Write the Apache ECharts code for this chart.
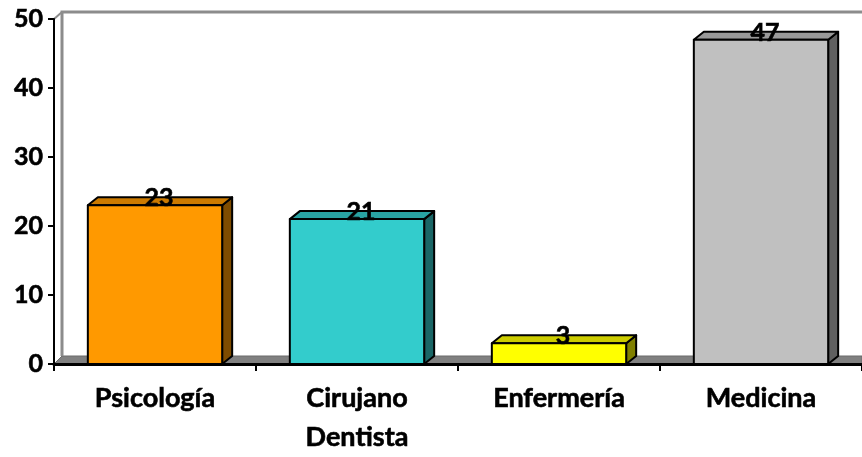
<!DOCTYPE html>
<html>
<head>
<meta charset="utf-8">
<script src="https://cdn.jsdelivr.net/npm/echarts@6/dist/echarts.min.js"></script>
<style>html,body{margin:0;padding:0;background:#fff}#c{width:862px;height:457px}</style>
</head>
<body>
<div id="c"></div>
<script>
const categories = ['Psicología', 'Cirujano\nDentista', 'Enfermería', 'Medicina'];
const values = [23, 21, 3, 47];
const frontColors = ['#FF9900', '#33CCCC', '#FFFF00', '#C0C0C0'];
const topColors = ['#CC7A00', '#29A3A3', '#CCCC00', '#999999'];
const sideColors = ['#7F4C00', '#1A6666', '#808000', '#606060'];
const yTicks = [0, 10, 20, 30, 40, 50];

const FONT = 'Lato, "Open Sans", sans-serif';
const DX = 10, DY = 8;

const chart = echarts.init(document.getElementById('c'), null, {renderer: 'canvas'});

const option = {
  animation: false,
  backgroundColor: '#fff',
  grid: {left: 54, right: 0, top: 19, bottom: 90, containLabel: false},
  xAxis: {
    type: 'category',
    data: categories,
    boundaryGap: true,
    axisLine: {lineStyle: {color: '#000', width: 3}},
    axisTick: {show: true, length: 7, lineStyle: {color: '#000', width: 2}, alignWithLabel: false},
    axisLabel: {color: '#000', fontFamily: FONT, fontWeight: 'bold', fontSize: 27, margin: 15, lineHeight: 39, interval: 0,
      textBorderColor: '#000', textBorderWidth: 0.6},
    splitLine: {show: false},
    z: 5
  },
  yAxis: {
    type: 'value',
    min: yTicks[0], max: yTicks[yTicks.length - 1], interval: 10,
    axisLine: {show: true, lineStyle: {color: '#000', width: 2}},
    axisTick: {show: true, length: 6, lineStyle: {color: '#000', width: 2}},
    axisLabel: {color: '#000', fontFamily: FONT, fontWeight: 'bold', fontSize: 25, margin: 11,
      textBorderColor: '#000', textBorderWidth: 0.6},
    splitLine: {show: false},
    z: 5
  },
  series: [{
    type: 'custom',
    data: values.map((v, i) => [i, v]),
    z: 3,
    renderItem: function (params, api) {
      const i = params.dataIndex;
      const v = api.value(1);
      const base = api.coord([api.value(0), 0]);
      const top = api.coord([api.value(0), v]);
      const bw = api.size([1, 0])[0] * 0.665;
      const x0 = top[0] - bw / 2, x1 = top[0] + bw / 2;
      const yt = top[1], yb = base[1];
      const stroke = {stroke: '#000', lineWidth: 2, lineJoin: 'round'};
      return {
        type: 'group',
        children: [
          {type: 'polygon', shape: {points: [[x1, yb], [x1 + DX, yb - DY], [x1 + DX, yt - DY], [x1, yt]]},
           style: Object.assign({fill: sideColors[i]}, stroke)},
          {type: 'polygon', shape: {points: [[x0, yt], [x0 + DX, yt - DY], [x1 + DX, yt - DY], [x1, yt]]},
           style: Object.assign({fill: topColors[i]}, stroke)},
          {type: 'rect', shape: {x: x0, y: yt, width: bw, height: yb - yt},
           style: Object.assign({fill: frontColors[i]}, stroke)},
          {type: 'text', z2: 10, style: {text: String(v), x: top[0] + DX / 2 - 1, y: yt - DY / 2 - 3,
            align: 'center', verticalAlign: 'middle', fill: '#000', font: 'bold 25px ' + FONT,
            stroke: '#000', lineWidth: 0.6}}
        ]
      };
    }
  }]
};
chart.setOption(option);

// 3D back wall and floor, derived from the axes
const y0 = chart.convertToPixel({yAxisIndex: 0}, yTicks[0]);
const yMax = chart.convertToPixel({yAxisIndex: 0}, yTicks[yTicks.length - 1]);
const c0 = chart.convertToPixel({xAxisIndex: 0}, categories[0]);
const c1 = chart.convertToPixel({xAxisIndex: 0}, categories[1]);
const band = c1 - c0;
const xL = c0 - band / 2;
const xR = chart.convertToPixel({xAxisIndex: 0}, categories[categories.length - 1]) + band / 2;

chart.setOption({
  graphic: [
    {type: 'polygon', z: 1, shape: {points: [[xL, y0], [xL + DX - 2, y0 - DY], [xR, y0 - DY], [xR, y0]]},
     style: {fill: '#808080', stroke: '#6a6a6a', lineWidth: 1}},
    {type: 'polyline', z: 1, shape: {points: [[xL + DX - 2, y0 - DY], [xL + DX - 2, yMax - DY + 1], [xR, yMax - DY + 1]]},
     style: {stroke: '#8c8c8c', lineWidth: 3, fill: null}},
    {type: 'line', z: 1, shape: {x1: xL, y1: yMax, x2: xL + DX - 2, y2: yMax - DY + 1},
     style: {stroke: '#8c8c8c', lineWidth: 2}}
  ]
});
</script>
</body>
</html>
